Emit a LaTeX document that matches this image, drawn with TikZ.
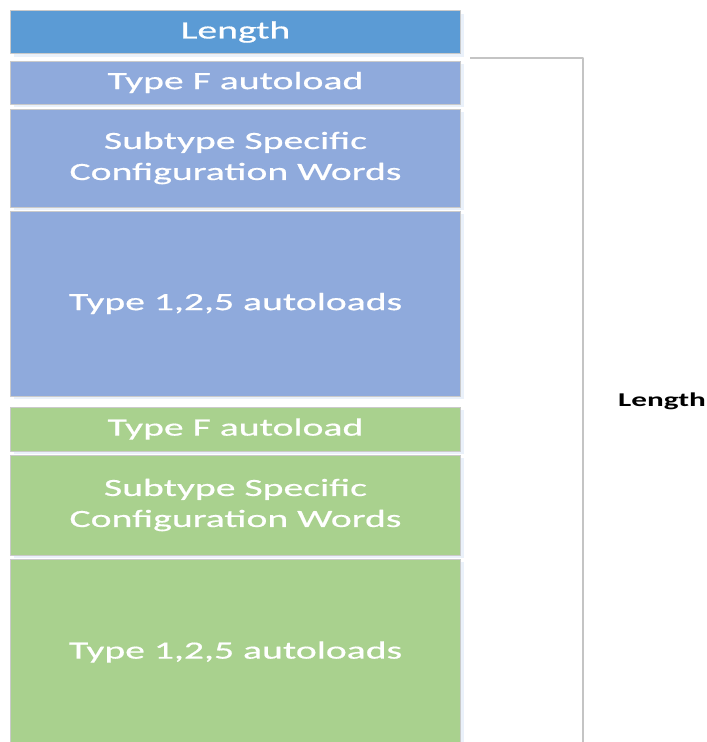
\documentclass[tikz,border=0pt]{standalone}
\usepackage{fontspec}
\setmainfont{Carlito}[FakeStretch=1.6]
\newfontfamily\boxfont{Carlito}[FakeStretch=1.6, FakeBold=0.6]
\usetikzlibrary{shadows}
\definecolor{lenblue}{HTML}{5B9BD5}
\definecolor{cfgblue}{HTML}{8FAADC}
\definecolor{cfggreen}{HTML}{A9D18E}
\definecolor{edgegray}{HTML}{CACACA}
\definecolor{brkgray}{HTML}{C4C4C4}
\definecolor{glow}{HTML}{DCE8F7}
\begin{document}
\begin{tikzpicture}[x=1pt, y=-1pt, line join=round,
    field/.style={draw=edgegray, line width=1pt, text=white, minimum width=450pt,
      inner sep=0pt, align=center, font=\boxfont\fontsize{24.8}{31}\selectfont,
      drop shadow={shadow xshift=3pt, shadow yshift=-3pt, fill=glow, opacity=0.6}},
    lenfield/.style={field, fill=lenblue},
    bfield/.style={field, fill=cfgblue},
    gfield/.style={field, fill=cfggreen},
    brk/.style={draw=brkgray, line width=1.5pt},
    lab/.style={inner sep=1pt, font=\bfseries\fontsize{19.5}{23}\selectfont}]
  \useasboundingbox (0,0) rectangle (707,742);
  \node[lenfield, minimum height=43pt] (len) at (235.5,32) {Length};
  % first block
  \node[bfield, minimum height=43pt] (tf1) at (235.5,82.5) {Type F autoload};
  \node[bfield, minimum height=98pt] (sub1) at (235.5,158) {Subtype Specific\\Configuration Words};
  \node[bfield, minimum height=185pt] (al1) at (235.5,303.5) {Type 1,2,5 autoloads};
  % second block
  \node[gfield, minimum height=44pt] (tf2) at (235.5,429) {Type F autoload};
  \node[gfield, minimum height=100pt] (sub2) at (235.5,505) {Subtype Specific\\Configuration Words};
  \node[gfield, minimum height=186pt] (al2) at (235.5,652) {Type 1,2,5 autoloads};
  % bracket
  \coordinate (b1) at (470,58);
  \coordinate (b2) at (583,58);
  \coordinate (b3) at (583,746);
  \draw[brk] (b1) -- (b2) -- (b3);
  \node[lab] (tot) at (662,401) {Length};
\end{tikzpicture}
\end{document}
